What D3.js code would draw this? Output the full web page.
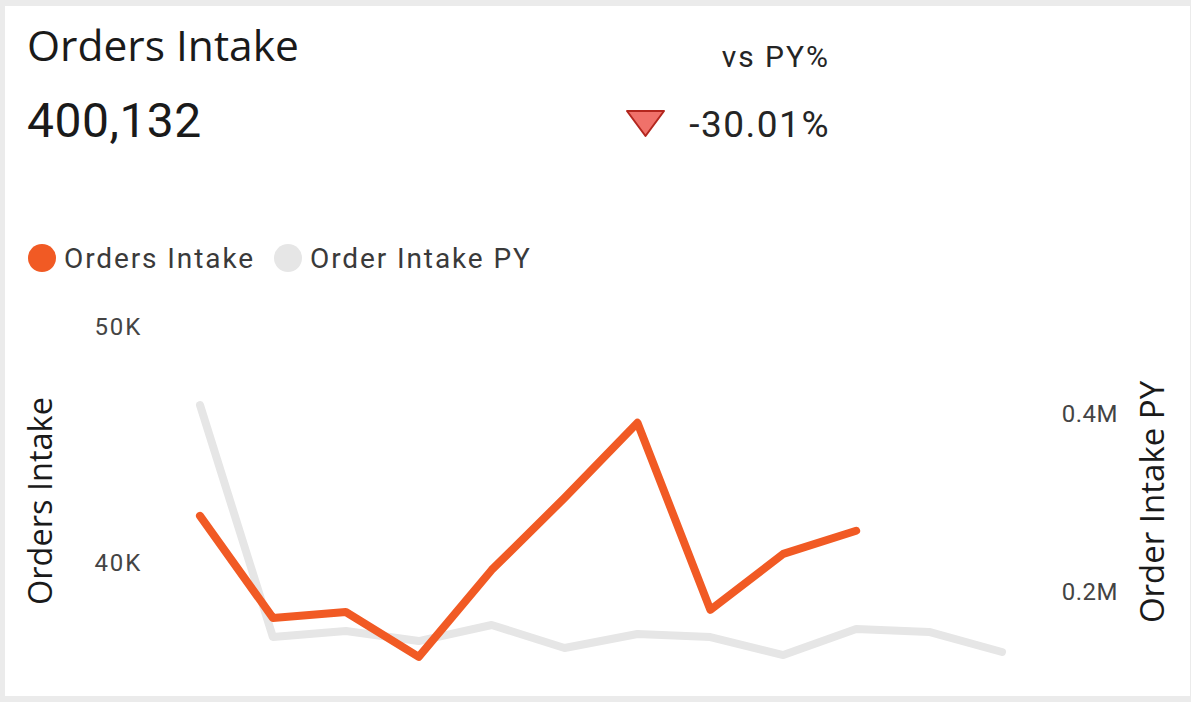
<!DOCTYPE html>
<html>
  <head>
    <script src="https://d3js.org/d3.v7.min.js"></script>
    <style>
      html, body {
        margin: 0;
        padding: 0;
        overflow: hidden;
        background: #ebebeb;
      }
      .din { font-family: Roboto, "Noto Sans", sans-serif; }
      .seg { font-family: "Open Sans", "Noto Sans", sans-serif; }
    </style>
  </head>
  <body>
    <div id="chart"></div>
    <script>
      // Monthly values (x axis is hidden in the visual)
      const months = ["Jan", "Feb", "Mar", "Apr", "May", "Jun", "Jul", "Aug", "Sep", "Oct", "Nov", "Dec"];
      const ordersIntake = [41990, 37670, 37920, 36020, 39700, 42750, 45930, 38010, 40380, 41360];
      const orderIntakePY = [410100, 149400, 156200, 144900, 162900, 137100, 152800, 149400, 129200, 158400, 155100, 132600];
      const leftTicks = [40000, 50000];
      const rightTicks = [200000, 400000];

      const width = 1191, height = 702;

      const svg = d3.select("#chart").append("svg")
        .attr("width", width)
        .attr("height", height);

      // card
      svg.append("rect")
        .attr("x", 5).attr("y", 6)
        .attr("width", width - 6).attr("height", 690)
        .attr("fill", "#fff");

      // header
      svg.append("text").attr("class", "seg")
        .attr("x", 27).attr("y", 61)
        .attr("font-size", 42.5).attr("fill", "#1a1a1a")
        .text("Orders Intake");

      svg.append("text").attr("class", "din")
        .attr("x", 27).attr("y", 137)
        .attr("font-size", 48).attr("letter-spacing", 0.5).attr("fill", "#1a1a1a")
        .text("400,132");

      svg.append("text").attr("class", "din")
        .attr("x", 830).attr("y", 67).attr("text-anchor", "end")
        .attr("font-size", 30).attr("letter-spacing", 2).attr("fill", "#252525")
        .text("vs PY%");

      svg.append("text").attr("class", "din")
        .attr("x", 830).attr("y", 137).attr("text-anchor", "end")
        .attr("font-size", 37).attr("letter-spacing", 1.5).attr("fill", "#252525")
        .text("-30.01%");

      svg.append("path")
        .attr("d", "M627,111 L664,111 L645.5,136 Z")
        .attr("fill", "#f0716a").attr("stroke", "#b3261e")
        .attr("stroke-width", 2).attr("stroke-linejoin", "round");

      // legend
      const legend = [
        { name: "Orders Intake", color: "#f15a24", x: 42 },
        { name: "Order Intake PY", color: "#e6e6e6", x: 288 }
      ];
      legend.forEach(l => {
        svg.append("circle").attr("cx", l.x).attr("cy", 258).attr("r", 14).attr("fill", l.color);
        svg.append("text").attr("class", "din")
          .attr("x", l.x + 22).attr("y", 268)
          .attr("font-size", 28).attr("letter-spacing", 1.9).attr("fill", "#3a3a3a")
          .text(l.name);
      });

      // scales
      const x = d3.scalePoint().domain(months).range([200, 1002]);
      const yLeft = d3.scaleLinear().domain([35000, 51000]).range([681, 303]);
      const yRight = d3.scaleLinear().domain([100000, 524700]).range([681, 303]);

      const leftAxis = d3.axisLeft(yLeft)
        .tickValues(leftTicks)
        .tickSize(0).tickPadding(0)
        .tickFormat(d => d3.format("~s")(d).replace("k", "K"));
      const gl = svg.append("g").attr("transform", "translate(142,0)").call(leftAxis);
      gl.select(".domain").remove();
      gl.selectAll("text").attr("class", "din").attr("font-size", 24)
        .attr("letter-spacing", 1.8).attr("fill", "#444");

      const rightAxis = d3.axisRight(yRight)
        .tickValues(rightTicks)
        .tickSize(0).tickPadding(0)
        .tickFormat(d => (d / 1e6).toFixed(1) + "M");
      const gr = svg.append("g").attr("transform", "translate(1118,0)").call(rightAxis);
      gr.select(".domain").remove();
      gr.selectAll("text").attr("class", "din").attr("font-size", 24)
        .attr("letter-spacing", 0.5).attr("fill", "#444")
        .attr("text-anchor", "end");

      // axis titles
      svg.append("text").attr("class", "seg")
        .attr("transform", "translate(52,501) rotate(-90)")
        .attr("text-anchor", "middle")
        .attr("font-size", 32.5).attr("fill", "#1a1a1a")
        .text("Orders Intake");

      svg.append("text").attr("class", "seg")
        .attr("transform", "translate(1164,502) rotate(-90)")
        .attr("text-anchor", "middle")
        .attr("font-size", 33).attr("fill", "#1a1a1a")
        .text("Order Intake PY");

      // lines
      const linePY = d3.line()
        .x((d, i) => x(months[i]))
        .y(d => yRight(d));
      const lineCur = d3.line()
        .x((d, i) => x(months[i]))
        .y(d => yLeft(d));

      svg.append("path")
        .datum(orderIntakePY)
        .attr("d", linePY)
        .attr("fill", "none").attr("stroke", "#e6e6e6")
        .attr("stroke-width", 8)
        .attr("stroke-linecap", "round").attr("stroke-linejoin", "round");

      svg.append("path")
        .datum(ordersIntake)
        .attr("d", lineCur)
        .attr("fill", "none").attr("stroke", "#f15a24")
        .attr("stroke-width", 8)
        .attr("stroke-linecap", "round").attr("stroke-linejoin", "round");
    </script>
  </body>
</html>
